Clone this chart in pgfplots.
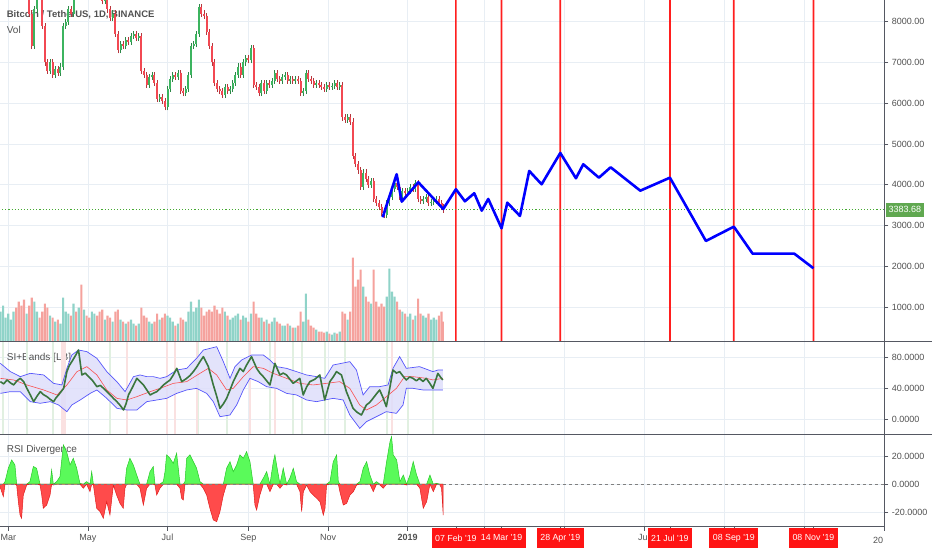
\documentclass[border=0pt]{standalone}
\usepackage{pgfplots}
\pgfplotsset{compat=1.18}
\usepackage{pgfplotstable}
\usepackage{fontspec}
\setmainfont{Liberation Sans}

\definecolor{cup}{RGB}{60,180,95}
\definecolor{cdn}{RGB}{242,72,82}
\definecolor{vup}{RGB}{143,211,200}
\definecolor{vdn}{RGB}{245,162,157}
\definecolor{gridc}{RGB}{232,238,244}
\definecolor{axc}{RGB}{85,88,98}
\definecolor{txt}{RGB}{80,80,80}
\definecolor{siline}{RGB}{58,118,62}
\definecolor{bandc}{RGB}{85,85,250}
\definecolor{bandf}{RGB}{222,222,250}
\definecolor{midc}{RGB}{250,80,80}
\definecolor{divg}{RGB}{90,250,90}
\definecolor{divgl}{RGB}{40,200,40}
\definecolor{divr}{RGB}{255,75,75}
\definecolor{divrl}{RGB}{225,30,30}
\definecolor{lastc}{RGB}{96,168,80}
\definecolor{dotc}{RGB}{70,170,50}
\definecolor{tvred}{RGB}{255,20,20}
\definecolor{redline}{RGB}{255,30,30}
\definecolor{stg}{RGB}{225,240,225}
\definecolor{str}{RGB}{250,225,225}

% up candles: day, open, close, volume
\pgfplotstableread{
d o c v
53 9600 9800 30
55 9800 10300 36
57 10300 10400 24
59 10400 10900 28
61 10900 11000 22
63 11000 11400 30
73 8800 9100 28
79 7400 8300 40
81 8300 8900 30
91 6800 7000 26
95 6700 6850 20
99 6750 6900 18
101 6900 7900 44
103 7900 8000 30
105 8000 8300 28
109 8200 8900 38
113 8850 9300 34
117 8900 9400 32
123 9100 9700 30
125 9700 9800 28
133 8500 8700 22
139 8100 8200 20
145 7300 7450 22
149 7400 7550 18
153 7500 7650 22
155 7650 7700 18
159 7600 7650 18
167 6450 6650 20
169 6650 6700 18
175 6100 6150 22
181 5900 6350 26
183 6350 6600 24
185 6600 6700 20
189 6650 6750 18
195 6250 6350 20
197 6350 6700 30
199 6700 7400 40
201 7400 7450 30
203 7450 7700 34
205 7700 8350 42
225 6200 6400 30
229 6300 6350 22
231 6350 6500 24
233 6500 6700 26
235 6700 6900 28
239 6700 7000 26
241 7000 7100 24
245 7050 7350 28
253 6250 6500 24
257 6300 6500 22
261 6450 6550 20
263 6550 6750 24
269 6550 6650 16
271 6650 6680 16
275 6550 6600 16
279 6550 6600 14
285 6250 6300 20
287 6300 6750 48
295 6450 6500 12
303 6350 6450 10
307 6400 6420 7
309 6420 6500 9
313 6400 6450 10
319 5600 5650 22
331 3950 4300 55
337 4000 4100 38
349 3250 3550 45
351 3550 3700 73
353 3700 3900 50
355 3900 4050 45
361 3700 3850 30
365 3800 3850 25
367 3850 3950 28
371 3900 4050 26
377 3600 3650 26
379 3650 3700 24
383 3550 3570 22
385 3570 3600 24
387 3600 3650 22
}\tabup

% down candles: day, open, close, volume
\pgfplotstableread{
d o c v
65 11400 10700 34
67 10700 9900 40
69 9900 9300 36
71 9300 8800 42
75 9100 8200 36
77 8200 7400 44
83 8900 8700 24
85 8700 7900 30
87 7900 7000 38
89 7000 6800 34
93 7000 6700 24
97 6850 6750 22
107 8300 8200 26
111 8900 8850 30
115 9300 8900 57
119 9400 9200 26
121 9200 9100 24
127 9800 9400 26
129 9400 8900 30
131 8900 8500 32
135 8700 8300 26
137 8300 8100 24
141 8200 7700 30
143 7700 7300 32
147 7450 7400 20
151 7550 7500 20
157 7700 7600 16
161 7650 6800 34
163 6800 6700 26
165 6700 6450 24
171 6700 6500 20
173 6500 6100 28
177 6150 6050 24
179 6050 5900 28
187 6700 6650 16
191 6750 6300 24
193 6300 6250 22
207 8350 8200 34
209 8200 8150 26
211 8150 7750 30
213 7750 7400 32
215 7400 7000 30
217 7000 6500 36
219 6500 6350 32
221 6350 6300 28
223 6300 6200 34
227 6400 6300 26
237 6900 6700 22
243 7100 7050 20
247 7350 6450 40
249 6450 6400 28
251 6400 6250 24
255 6500 6300 20
259 6500 6450 18
265 6750 6600 20
267 6600 6550 18
273 6680 6550 18
277 6600 6550 14
281 6600 6550 16
283 6550 6250 30
289 6750 6600 22
291 6600 6550 16
293 6550 6450 14
297 6500 6450 10
299 6450 6400 10
301 6400 6350 9
305 6450 6400 8
311 6500 6400 8
315 6450 5650 30
317 5650 5600 28
321 5650 5550 30
323 5550 4700 84
325 4700 4500 55
327 4500 4350 62
329 4350 3950 72
333 4300 4150 45
335 4150 4000 40
339 4100 3650 72
341 3650 3550 40
343 3550 3450 35
345 3450 3300 38
347 3300 3250 35
357 4050 3950 40
359 3950 3700 32
363 3850 3800 28
369 3950 3900 22
373 4050 3650 43
375 3650 3600 28
381 3700 3550 28
389 3650 3550 26
391 3550 3450 30
392 3450 3384 20
}\tabdn

% RSI divergence
\pgfplotstableread{
d v
52.6 -1.7
55.2 -8.8
56.5 1.8
59.0 11.3
61.6 17.2
64.1 13.6
65.4 -0.6
66.7 -12.4
68.0 -21.9
69.2 -24.2
70.5 -7.7
73.1 -0.6
75.6 1.8
78.2 12.5
80.7 11.3
83.3 -0.6
84.6 -7.7
85.8 -17.1
88.4 -14.8
91.0 -7.7
92.2 10.1
93.5 -0.6
96.1 1.8
98.6 5.4
101.2 27.9
103.7 23.1
106.3 13.6
108.8 18.4
111.4 11.3
113.9 0.6
116.5 -2.9
119.0 1.8
121.6 -5.3
122.9 8.9
124.2 -0.6
126.7 -17.1
129.3 -19.5
131.8 -24.2
134.4 -12.4
136.9 -21.9
139.5 -0.6
142.0 -7.7
144.6 -13.6
147.1 -17.1
148.4 -2.9
149.7 11.3
152.2 18.4
154.8 13.6
157.4 6.5
159.9 -2.9
162.5 -14.8
165.0 -2.9
167.6 8.9
170.1 12.5
171.4 -0.6
172.7 -7.7
175.2 -2.9
177.8 1.8
179.1 8.9
180.3 20.8
182.9 18.4
185.4 14.8
188.0 21.9
190.6 -2.9
191.8 -10.0
193.1 -11.2
194.4 1.8
195.7 18.4
198.2 20.8
200.8 16.0
203.3 11.3
205.9 1.8
208.4 -2.9
211.0 -7.7
213.5 -17.1
216.1 -25.4
218.7 -26.6
221.2 -19.5
223.8 -7.7
226.3 11.3
228.9 16.0
231.4 8.9
234.0 13.6
236.5 20.8
239.1 18.4
241.6 23.1
244.2 16.0
246.7 -0.6
248.0 -14.8
249.3 -18.3
251.8 -7.7
254.4 4.2
255.7 6.5
257.0 8.9
259.5 -5.3
262.1 16.0
263.3 20.8
264.6 13.6
267.2 -2.9
269.7 11.3
272.3 -0.6
274.8 4.2
277.4 11.3
279.9 1.8
282.5 -5.3
283.8 -19.5
285.1 -5.3
287.6 -0.6
290.2 -5.3
292.7 -7.7
295.3 -10.0
297.8 -12.4
300.4 -21.9
301.7 -17.1
302.9 -0.6
305.5 1.8
308.0 16.0
310.6 20.8
311.9 1.8
313.1 -5.3
315.7 -14.8
318.3 -13.6
320.8 -7.7
323.4 -5.3
325.9 -0.6
328.5 1.8
331.0 11.3
333.6 16.0
336.1 6.5
338.7 -5.3
341.2 1.8
343.8 -0.6
346.3 -2.9
348.9 16.0
351.5 30.2
352.7 33.8
354.0 20.8
356.6 17.2
359.1 1.8
361.7 6.5
364.2 -0.6
366.8 6.5
369.3 16.0
371.9 6.5
374.4 -2.9
377.0 -17.1
379.6 -12.4
382.1 6.5
384.7 -5.3
387.2 0.6
389.8 -0.6
391.0 -2.9
392.3 -21.9
}\tabrsi

\tikzset{panelnote/.style={anchor=west, font=\fontsize{10}{12}\selectfont, text=txt, inner sep=0pt}}

\pgfplotsset{
  tvpanel/.style={
    scale only axis, width=884.3pt, anchor=south west,
    xmin=52.64, xmax=730.3,
    xtick={59,120,181,243,304,365,424,485,546,608,669,730},
    xticklabels={},
    xmajorgrids=true, ymajorgrids=true,
    major grid style={gridc, line width=0.6pt},
    axis x line*=bottom, axis y line*=right,
    axis line style={axc, line width=0.8pt},
    tick align=outside, major tick length=4pt,
    tick style={axc, line width=0.5pt},
    ticklabel style={font=\fontsize{9}{10}\selectfont, text=txt},
    /pgf/number format/assume math mode=true,
    /pgf/number format/1000 sep={},
  },
}

\begin{document}
\begin{tikzpicture}
\useasboundingbox (0pt,0pt) rectangle (932pt,550pt);

% ---------- price panel ----------
\begin{axis}[tvpanel, at={(0pt,208.3pt)}, height=341.7pt,
  xmajorticks=false,
  ymin=149, ymax=8532, ytick={1000,2000,...,8000},
  yticklabel style={/pgf/number format/.cd, fixed, fixed zerofill, precision=2},
]
\node[panelnote, font=\bfseries\fontsize{9.5}{12}\selectfont] at (rel axis cs:0.0075,0.956) {Bitcoin / TetherUS, 1D, BINANCE};
\node[panelnote] at (rel axis cs:0.0075,0.912) {Vol};
% forecast date markers, drawn as thin filled bars
\addplot[ybar, bar width=1.7pt, bar shift=0pt, fill=redline, draw=none] coordinates {
  (402,9000) (437,9000) (482,9000) (566,9000) (615,9000) (676,9000)};
\addplot[dotc, dotted, line width=1.1pt] coordinates {(52,3383.68) (731,3383.68)};
% wicks
\addplot[cup!75!black, line width=0.6pt,
  quiver={u=0, v=abs(\thisrow{c}-\thisrow{o})+150}]
  table[x=d, y expr={min(\thisrow{o},\thisrow{c})-75}] {\tabup};
\addplot[cdn!75!black, line width=0.6pt,
  quiver={u=0, v=abs(\thisrow{c}-\thisrow{o})+150}]
  table[x=d, y expr={min(\thisrow{o},\thisrow{c})-75}] {\tabdn};
% bodies
\addplot[cup, line width=2pt, quiver={u=0, v=\thisrow{c}-\thisrow{o}}]
  table[x=d, y=o] {\tabup};
\addplot[cdn, line width=2pt, quiver={u=0, v=\thisrow{c}-\thisrow{o}}]
  table[x=d, y=o] {\tabdn};
\addplot[blue, line width=2.6pt, line join=round] coordinates {
  (345.9,3202) (356.6,4257) (360.5,3585) (373.2,4060) (392.3,3405)
  (402,3889) (408.9,3594) (416.1,3791) (421.8,3364) (426.8,3651)
  (437,2932) (441.4,3560) (451.1,3234) (458.2,4338) (467.7,4011)
  (482,4779) (494.0,4159) (499.6,4502) (511.6,4173) (520.6,4428)
  (543.3,3854) (566,4173) (593.6,2621) (615,2971) (629.4,2309)
  (661.3,2309) (676,1951)};
\end{axis}

% ---------- volume overlay ----------
\begin{axis}[scale only axis, width=884.3pt, height=341.7pt, anchor=south west,
  at={(0pt,208.3pt)}, xmin=52.64, xmax=730.3, ymin=0, ymax=341.7, hide axis]
\addplot[ybar, bar width=2.1pt, bar shift=0pt, fill=vup, draw=none] table[x=d, y=v] {\tabup};
\addplot[ybar, bar width=2.1pt, bar shift=0pt, fill=vdn, draw=none] table[x=d, y=v] {\tabdn};
\end{axis}

% ---------- SI + bands panel ----------
\begin{axis}[tvpanel, at={(0pt,115.7pt)}, height=92.6pt,
  xmajorticks=false,
  ymin=-19.5, ymax=100.8, ytick={0,40,80},
  yticklabel style={/pgf/number format/.cd, fixed, fixed zerofill, precision=4},
]
\node[panelnote] at (rel axis cs:0.0075,0.827) {SI+Bands [LB]};
\addplot[ycomb, stg, line width=2pt] coordinates {
  (55.2,200) (73.1,200) (93.5,200) (136.9,200) (204.6,200) (226.3,200) (259.5,200)
  (277.4,200) (283.8,200) (301.7,200) (317.0,200) (348.9,200) (365.5,200) (384.7,200)};
\addplot[ycomb, stg, line width=2pt] coordinates {
  (55.2,-50) (73.1,-50) (93.5,-50) (136.9,-50) (204.6,-50) (226.3,-50) (259.5,-50)
  (277.4,-50) (283.8,-50) (301.7,-50) (317.0,-50) (348.9,-50) (365.5,-50) (384.7,-50)};
\addplot[ycomb, str, line width=2pt] coordinates {
  (99.9,200) (101.2,200) (102.4,200) (149.7,200) (180.3,200) (186.7,200) (203.3,200)
  (244.2,200) (263.3,200) (352.7,200)};
\addplot[ycomb, str, line width=2pt] coordinates {
  (99.9,-50) (101.2,-50) (102.4,-50) (149.7,-50) (180.3,-50) (186.7,-50) (203.3,-50)
  (244.2,-50) (263.3,-50) (352.7,-50)};
% band area: upper band forward, lower band back
\addplot[fill=bandf, draw=none, fill opacity=0.85] coordinates {
  (52.9,72.7) (60.6,61.9) (68.2,55.4) (75.9,59.7) (86.1,57.6) (93.7,46.7) (100.1,44.6)
  (103.9,66.2) (107.7,83.5) (112.8,90.0) (119.2,87.9) (126.9,79.2) (134.5,61.9)
  (142.2,48.9) (148.5,35.9) (154.9,55.4) (160.0,57.6) (165.1,55.4) (170.2,55.4)
  (175.3,53.2) (180.4,55.4) (188.1,64.0) (195.7,66.2) (203.3,79.2) (208.5,90.0)
  (218.7,94.3) (223.8,74.9) (228.9,53.2) (232.7,68.4) (237.8,77.0) (245.4,83.5)
  (254.4,83.5) (259.5,77.0) (264.6,68.4) (272.2,66.2) (279.9,61.9) (287.5,57.6)
  (295.2,55.4) (301.5,53.2) (307.9,70.5) (314.3,72.7) (320.7,74.9) (325.8,64.0)
  (330.9,31.6) (336.0,42.4) (343.6,42.4) (350.0,44.6) (353.8,66.2) (358.9,81.4)
  (364.0,66.2) (374.2,68.4) (384.4,61.9) (388.2,64.0) (392.0,64.0)
  (392.0,38.1) (384.4,38.1) (376.8,38.1) (369.1,40.2) (364.0,40.2) (361.5,18.6)
  (356.4,7.7) (348.7,9.9) (341.1,3.4) (333.4,-3.1) (328.3,-11.7) (320.7,5.6)
  (315.6,25.1) (307.9,27.2) (301.5,25.1) (295.2,22.9) (287.5,25.1) (279.9,31.6)
  (272.2,33.7) (264.6,40.2) (256.9,42.4) (250.5,48.9) (244.2,53.2) (239.1,38.1)
  (234.0,18.6) (228.9,5.6) (221.2,3.4) (216.1,22.9) (211.0,33.7) (203.3,40.2)
  (195.7,38.1) (188.1,33.7) (180.4,27.2) (172.8,25.1) (165.1,22.9) (157.5,12.1)
  (149.8,12.1) (142.2,14.3) (134.5,27.2) (126.9,38.1) (121.8,33.7) (114.1,25.1)
  (107.7,18.6) (103.9,9.9) (97.5,18.6) (91.2,22.9) (83.5,20.8) (75.9,22.9)
  (68.2,35.9) (60.6,35.9) (52.9,33.7)} -- cycle;
\addplot[bandc, line width=0.7pt] coordinates {
  (52.9,72.7) (60.6,61.9) (68.2,55.4) (75.9,59.7) (86.1,57.6) (93.7,46.7) (100.1,44.6)
  (103.9,66.2) (107.7,83.5) (112.8,90.0) (119.2,87.9) (126.9,79.2) (134.5,61.9)
  (142.2,48.9) (148.5,35.9) (154.9,55.4) (160.0,57.6) (165.1,55.4) (170.2,55.4)
  (175.3,53.2) (180.4,55.4) (188.1,64.0) (195.7,66.2) (203.3,79.2) (208.5,90.0)
  (218.7,94.3) (223.8,74.9) (228.9,53.2) (232.7,68.4) (237.8,77.0) (245.4,83.5)
  (254.4,83.5) (259.5,77.0) (264.6,68.4) (272.2,66.2) (279.9,61.9) (287.5,57.6)
  (295.2,55.4) (301.5,53.2) (307.9,70.5) (314.3,72.7) (320.7,74.9) (325.8,64.0)
  (330.9,31.6) (336.0,42.4) (343.6,42.4) (350.0,44.6) (353.8,66.2) (358.9,81.4)
  (364.0,66.2) (374.2,68.4) (384.4,61.9) (388.2,64.0) (392.0,64.0)};
\addplot[bandc, line width=0.7pt] coordinates {
  (52.9,33.7) (60.6,35.9) (68.2,35.9) (75.9,22.9) (83.5,20.8) (91.2,22.9) (97.5,18.6)
  (103.9,9.9) (107.7,18.6) (114.1,25.1) (121.8,33.7) (126.9,38.1) (134.5,27.2)
  (142.2,14.3) (149.8,12.1) (157.5,12.1) (165.1,22.9) (172.8,25.1) (180.4,27.2)
  (188.1,33.7) (195.7,38.1) (203.3,40.2) (211.0,33.7) (216.1,22.9) (221.2,3.4)
  (228.9,5.6) (234.0,18.6) (239.1,38.1) (244.2,53.2) (250.5,48.9) (256.9,42.4)
  (264.6,40.2) (272.2,33.7) (279.9,31.6) (287.5,25.1) (295.2,22.9) (301.5,25.1)
  (307.9,27.2) (315.6,25.1) (320.7,5.6) (328.3,-11.7) (333.4,-3.1) (341.1,3.4)
  (348.7,9.9) (356.4,7.7) (361.5,18.6) (364.0,40.2) (369.1,40.2) (376.8,38.1)
  (384.4,38.1) (392.0,38.1)};
\addplot[midc, line width=0.6pt] coordinates {
  (52.9,53.2) (63.1,51.1) (73.3,44.6) (86.1,38.1) (96.3,31.6) (103.9,44.6) (111.6,61.9)
  (119.2,68.4) (126.9,57.6) (134.5,38.1) (142.2,27.2) (149.8,25.1) (157.5,29.4)
  (167.7,35.9) (175.3,40.2) (185.5,46.7) (195.7,48.9) (205.9,59.7) (212.3,66.2)
  (218.7,57.6) (226.3,38.1) (231.4,40.2) (239.1,55.4) (246.7,68.4) (254.4,66.2)
  (262.0,59.7) (272.2,53.2) (282.4,46.7) (292.6,44.6) (302.8,46.7) (313.0,48.9)
  (320.7,40.2) (328.3,18.6) (333.4,12.1) (341.1,18.6) (348.7,29.4) (356.4,40.2)
  (362.7,55.4) (369.1,55.4) (379.3,53.2) (384.4,51.1) (392.0,53.2)};
\addplot[siline, line width=1.6pt, line join=round] coordinates {
  (52.9,48.9) (55.5,46.0) (58.0,51.1) (60.5,47.5) (63.1,44.6) (65.6,50.0) (68.2,53.2)
  (70.8,48.9) (73.3,40.0) (75.9,31.6) (78.4,22.9) (81.0,30.0) (83.5,35.9) (86.0,32.0)
  (88.6,29.4) (91.1,26.0) (93.7,22.9) (95.6,28.0) (97.5,31.6) (99.5,36.0) (101.4,40.2)
  (103.9,61.9) (105.8,70.0) (107.7,74.9) (110.2,82.0) (112.8,90.0) (115.4,57.6)
  (118.0,60.0) (120.5,55.4) (123.7,50.0) (126.9,42.4) (129.5,44.0) (132.0,40.2)
  (134.6,36.0) (137.1,31.6) (139.7,27.0) (142.2,22.9) (144.8,18.0) (147.3,12.1)
  (149.2,20.0) (151.1,31.6) (154.3,42.0) (157.5,53.2) (160.0,49.0) (162.6,44.6)
  (165.2,38.0) (167.7,31.6) (170.3,34.0) (172.8,35.9) (175.4,40.0) (177.9,44.6)
  (180.5,48.0) (183.0,51.1) (185.6,58.0) (188.1,66.2) (191.9,48.9) (195.7,53.2)
  (198.3,57.0) (200.8,61.9) (203.4,68.0) (205.9,74.9) (208.5,81.4) (212.3,68.4)
  (216.1,44.6) (218.7,30.0) (221.2,14.3) (223.8,20.0) (226.3,27.2) (228.9,38.0)
  (231.4,48.9) (234.0,58.0) (236.5,66.2) (239.1,62.0) (241.6,70.5) (243.5,76.0)
  (245.4,81.4) (249.3,66.2) (251.8,60.0) (254.4,55.4) (257.0,50.0) (259.5,44.6)
  (263.3,72.7) (267.1,57.6) (269.7,60.0) (272.2,57.6) (274.8,52.0) (277.3,46.7)
  (279.9,50.0) (282.4,53.2) (285.0,31.6) (287.6,42.0) (290.1,48.9) (293.9,52.0)
  (297.7,57.6) (301.5,25.1) (305.4,48.9) (308.0,55.0) (310.5,61.9) (314.3,57.6)
  (318.1,35.9) (320.7,25.0) (323.2,14.3) (326.4,9.0) (329.6,5.6) (333.4,18.6)
  (336.0,22.0) (338.5,27.2) (341.1,33.0) (343.6,38.1) (346.2,28.0) (348.7,16.4)
  (351.3,40.2) (353.8,64.0) (356.4,60.0) (358.9,61.9) (361.5,56.0) (364.0,51.1)
  (366.6,55.0) (369.1,53.2) (371.7,50.0) (374.2,53.2) (376.8,49.0) (379.3,53.2)
  (381.9,47.0) (384.4,40.2) (388.2,59.7) (390.1,55.0) (392.0,51.1)};
\end{axis}

% ---------- RSI divergence panel ----------
\begin{axis}[tvpanel, at={(0pt,23.3pt)}, height=92.4pt,
  ymin=-30.2, ymax=35.4, ytick={-20,0,20},
  yticklabel style={/pgf/number format/.cd, fixed, fixed zerofill, precision=4},
  xticklabels={Mar,May,Jul,Sep,Nov,\textbf{2019},{},{},Jul,{},{},{}},
  extra x ticks={402,437,482,566,615,676},
  extra x tick labels={07 Feb \textquotesingle19,14 Mar \textquotesingle19,28 Apr \textquotesingle19,21 Jul \textquotesingle19,08 Sep \textquotesingle19,08 Nov \textquotesingle19},
  extra x tick style={grid=none,
    xticklabel style={fill=tvred, text=white, font=\fontsize{8.8}{9}\selectfont,
      minimum height=20pt, inner xsep=3.5pt, yshift=3pt}},
]
\node[panelnote] at (rel axis cs:0.0075,0.83) {RSI Divergence};
\addplot[fill=divg, draw=divgl, line width=0.5pt] table[x=d, y expr={max(\thisrow{v},0)}] {\tabrsi} \closedcycle;
\addplot[fill=divr, draw=divrl, line width=0.5pt] table[x=d, y expr={min(\thisrow{v},0)}] {\tabrsi} \closedcycle;
\addplot[gray, dashed, line width=0.6pt] coordinates {(52,0) (731,0)};
\end{axis}

% panel separators, last price tag, clipped year label
\draw[axc, line width=0.8pt] (0pt,208.3pt) -- (932pt,208.3pt);
\draw[axc, line width=0.8pt] (0pt,115.7pt) -- (932pt,115.7pt);
\node[fill=lastc, text=white, font=\fontsize{9}{10}\selectfont, anchor=west,
  minimum height=14pt, inner xsep=2.5pt] at (886pt,340.1pt) {3383.68};
\node[font=\fontsize{9}{10}\selectfont, text=txt] at (878pt,10pt) {20};
\end{tikzpicture}
\end{document}
